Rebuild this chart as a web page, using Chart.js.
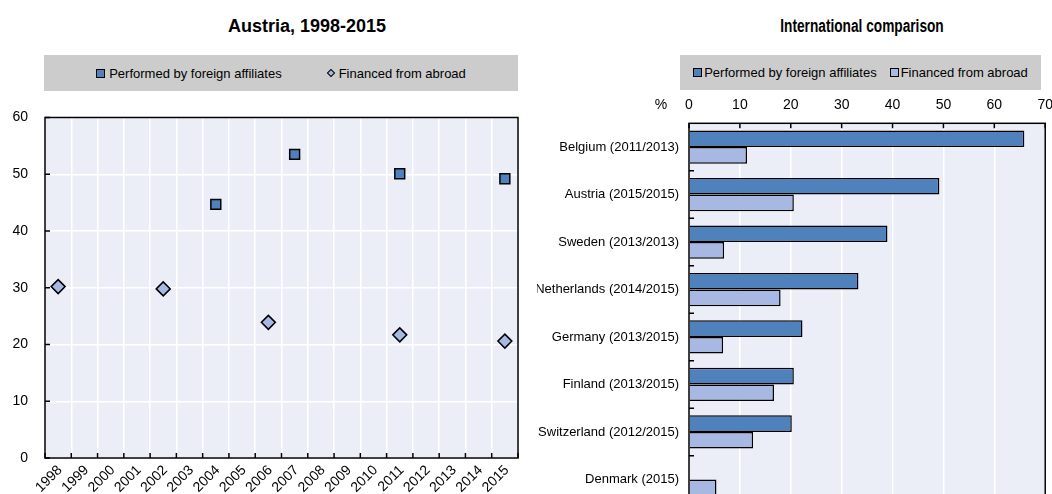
<!DOCTYPE html>
<html>
<head>
<meta charset="utf-8">
<script src="https://cdn.jsdelivr.net/npm/chart.js@4.4.1/dist/chart.umd.min.js"></script>
<style>
  body { margin: 0; width: 1052px; height: 494px; overflow: hidden; background: #fff; position: relative;
         font-family: 'Liberation Sans', Arial, sans-serif; color: #000; }
  .title { position: absolute; top: 16px; width: 240px; line-height: 20px; font-size: 18px; font-weight: bold;
           text-align: center; white-space: nowrap; }
  .legend { position: absolute; top: 55px; background: #cccccc; display: flex; align-items: center;
            justify-content: center; font-size: 13px; white-space: nowrap; }
  .legend .item { display: flex; align-items: center; }
  .mk { display: inline-block; box-sizing: border-box; border: 1.5px solid #000; margin-right: 4px; }
  #leftBox { position: absolute; left: 0; top: 0; width: 530px; height: 494px; }
  #rightBox { position: absolute; left: 537px; top: 0; width: 515px; height: 494px; overflow: hidden; }
</style>
</head>
<body>

<div class="title" style="left:187px">Austria, 1998-2015</div>
<div class="title" style="left:742px; transform:scaleX(0.76)">International comparison</div>

<div class="legend" style="left:44px; width:474px; height:36px; gap:46px">
  <span class="item"><span class="mk" style="width:9px;height:9px;background:#4f81bd"></span>Performed by foreign affiliates</span>
  <span class="item"><span class="mk" style="width:6px;height:6px;border-width:1px;background:#a7b8e2;transform:rotate(45deg);margin-right:5px"></span>Financed from abroad</span>
</div>
<div class="legend" style="left:680px; width:361px; height:35px; gap:13px">
  <span class="item"><span class="mk" style="width:9px;height:9px;background:#4f81bd;margin-right:2px"></span>Performed by foreign affiliates</span>
  <span class="item"><span class="mk" style="width:9px;height:9px;background:#a7b8e2;margin-right:2px"></span>Financed from abroad</span>
</div>

<div id="leftBox"><canvas id="austria" width="530" height="494"></canvas></div>
<div id="rightBox"><canvas id="intl" width="526" height="521"></canvas></div>

<script>
// Austria, 1998-2015 (%)
const years = ['1998', '1999', '2000', '2001', '2002', '2003', '2004', '2005', '2006',
               '2007', '2008', '2009', '2010', '2011', '2012', '2013', '2014', '2015'];
const performedAT = [null, null, null, null, null, null, 44.7, null, null,
                     53.5, null, null, null, 50.1, null, null, null, 49.2];
const financedAT = [30.2, null, null, null, 29.8, null, null, null, 23.9,
                    null, null, null, null, 21.7, null, null, null, 20.6];

// international comparison (%)
const countries = ['Belgium (2011/2013)', 'Austria (2015/2015)', 'Sweden (2013/2013)', 'Netherlands (2014/2015)',
                   'Germany (2013/2015)', 'Finland (2013/2015)', 'Switzerland (2012/2015)', 'Denmark (2015)'];
const performedIntl = [65.9, 49.2, 39.0, 33.3, 22.3, 20.6, 20.2, null];
const financedIntl = [11.4, 20.6, 6.9, 18.0, 6.7, 16.7, 12.6, 5.4];

const darkBlue = '#4f81bd';
const lightBlue = '#a7b8e2';
const plotBg = '#ebeef6';

Chart.defaults.font.family = "'Liberation Sans', Arial, sans-serif";
Chart.defaults.color = '#000';

// plot background + black frame
const framePlugin = {
  id: 'frame',
  beforeDraw(chart) {
    const {ctx, chartArea: a} = chart;
    ctx.save();
    ctx.fillStyle = plotBg;
    ctx.fillRect(a.left, a.top, a.width, a.height);
    ctx.restore();
  },
  afterDraw(chart) {
    const {ctx, chartArea: a} = chart;
    ctx.save();
    ctx.strokeStyle = '#000';
    ctx.lineWidth = 1.5;
    ctx.strokeRect(a.left, a.top, a.width, a.height);
    ctx.restore();
  }
};

// small tick marks pointing into the plot
const innerTicksLeft = {
  id: 'innerTicksLeft',
  afterDraw(chart) {
    const {ctx, chartArea: a, scales: {x, y}} = chart;
    const step = x.getPixelForValue(1) - x.getPixelForValue(0);
    ctx.save();
    ctx.strokeStyle = '#000';
    ctx.lineWidth = 1.5;
    ctx.beginPath();
    for (let i = 0; i <= years.length; i++) {
      const px = x.getPixelForValue(i) - step / 2;
      ctx.moveTo(px, a.bottom);
      ctx.lineTo(px, a.bottom - 5);
    }
    y.ticks.forEach(t => {
      const py = y.getPixelForValue(t.value);
      ctx.moveTo(a.left, py);
      ctx.lineTo(a.left + 5, py);
    });
    ctx.stroke();
    ctx.restore();
  }
};

const innerTicksRight = {
  id: 'innerTicksRight',
  afterDraw(chart) {
    const {ctx, chartArea: a, scales: {x, y}} = chart;
    const step = y.getPixelForValue(1) - y.getPixelForValue(0);
    ctx.save();
    ctx.strokeStyle = '#000';
    ctx.lineWidth = 1.5;
    ctx.beginPath();
    x.ticks.forEach(t => {
      const px = x.getPixelForValue(t.value);
      ctx.moveTo(px, a.top);
      ctx.lineTo(px, a.top + 5);
    });
    for (let i = 1; i < countries.length; i++) {
      const py = y.getPixelForValue(i) - step / 2;
      ctx.moveTo(a.left, py);
      ctx.lineTo(a.left + 5, py);
    }
    ctx.stroke();
    // "%" unit next to the top axis
    ctx.fillStyle = '#000';
    ctx.font = "14px 'Liberation Sans', Arial, sans-serif";
    ctx.textAlign = 'center';
    ctx.textBaseline = 'middle';
    ctx.fillText('%', a.left - 28, a.top - 18);
    ctx.restore();
  }
};

const leftChart = new Chart(document.getElementById('austria'), {
  type: 'line',
  data: {
    labels: years,
    datasets: [
      {
        label: 'Performed by foreign affiliates',
        data: performedAT,
        showLine: false,
        pointStyle: 'rect',
        pointRadius: 7,
        backgroundColor: darkBlue,
        borderColor: '#000',
        borderWidth: 1.5,
      },
      {
        label: 'Financed from abroad',
        data: financedAT,
        showLine: false,
        pointStyle: 'rectRot',
        pointRadius: 7,
        backgroundColor: lightBlue,
        borderColor: '#000',
        borderWidth: 1.5,
      },
    ],
  },
  options: {
    responsive: false,
    animation: false,
    layout: { padding: { top: 117.5, right: 12, left: 0, bottom: 0 } },
    plugins: { legend: { display: false }, tooltip: { enabled: false } },
    scales: {
      x: {
        offset: true,
        grid: { offset: true, color: '#fff', lineWidth: 1.5, drawTicks: false },
        border: { display: false },
        ticks: { autoSkip: false, minRotation: 45, maxRotation: 45, padding: 4, labelOffset: 2, font: { size: 14 } },
        afterFit: s => { s.height = 36; },
      },
      y: {
        min: 0,
        max: 60,
        ticks: { stepSize: 10, padding: 17, font: { size: 14 } },
        grid: { color: '#fff', lineWidth: 1.5, drawTicks: false },
        border: { display: false },
        afterFit: s => { s.width = 45; },
      },
    },
  },
  plugins: [framePlugin, innerTicksLeft],
});

const rightChart = new Chart(document.getElementById('intl'), {
  type: 'bar',
  data: {
    labels: countries,
    datasets: [
      {
        label: 'Performed by foreign affiliates',
        data: performedIntl,
        backgroundColor: darkBlue,
        borderColor: '#000',
        borderWidth: 1.5,
        categoryPercentage: 0.7,
        barPercentage: 1.0,
      },
      {
        label: 'Financed from abroad',
        data: financedIntl,
        backgroundColor: lightBlue,
        borderColor: '#000',
        borderWidth: 1.5,
        categoryPercentage: 0.7,
        barPercentage: 1.0,
      },
    ],
  },
  options: {
    indexAxis: 'y',
    responsive: false,
    animation: false,
    layout: { padding: { top: 90, right: 0, left: 0, bottom: 0 } },
    plugins: { legend: { display: false }, tooltip: { enabled: false } },
    scales: {
      x: {
        position: 'top',
        min: 0,
        max: 70,
        ticks: { stepSize: 10, padding: 10, font: { size: 14 } },
        grid: { color: '#fff', lineWidth: 1.5, drawTicks: false },
        border: { display: false },
        afterFit: s => { s.height = 33.3; },
      },
      y: {
        ticks: { padding: 10, font: { size: 13 } },
        grid: { display: false, drawTicks: false },
        border: { display: false },
        afterFit: s => { s.width = 152; },
      },
    },
  },
  plugins: [framePlugin, innerTicksRight],
});
</script>
</body>
</html>
